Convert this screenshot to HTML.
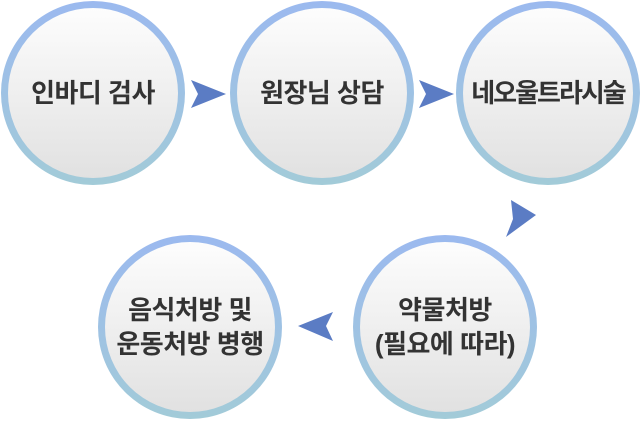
<!DOCTYPE html>
<html><head><meta charset="utf-8"><style>
body{margin:0;width:640px;height:421px;background:#fff;position:relative;overflow:hidden;font-family:"Liberation Sans","Noto Sans CJK KR","NanumGothic",sans-serif}
.c{position:absolute;width:184px;height:184px;border-radius:50%;background:linear-gradient(#9bb9ef,#a2cbd8);}
.c div{position:absolute;left:7px;top:7px;width:170px;height:170px;border-radius:50%;background:linear-gradient(#fdfdfd,#e1e1e1);display:flex;align-items:center;justify-content:center;text-align:center;font-size:26px;font-weight:bold;color:#333;line-height:34px;letter-spacing:-0.5px;white-space:nowrap}
svg{position:absolute;left:0;top:0}
</style></head><body>
<div class="c" style="left:1px;top:1px"><div>인바디 검사</div></div>
<div class="c" style="left:230px;top:1px"><div>원장님 상담</div></div>
<div class="c" style="left:456px;top:1px"><div style="letter-spacing:-2px">네오울트라시술</div></div>
<div class="c" style="left:353px;top:235px"><div>약물처방<br>(필요에 따라)</div></div>
<div class="c" style="left:98px;top:235px"><div>음식처방 및<br>운동처방 병행</div></div>
<svg width="640" height="421">
<g fill="#5b7cc4">
<polygon points="191,80 226,94 191,108 198,94"/>
<polygon points="419,80 454,94 419,108 426,94"/>
<polygon points="511,200 536,215 506,237 513,219"/>
<polygon points="333,312 298,326 333,341 326,326"/>
</g></svg>
</body></html>
